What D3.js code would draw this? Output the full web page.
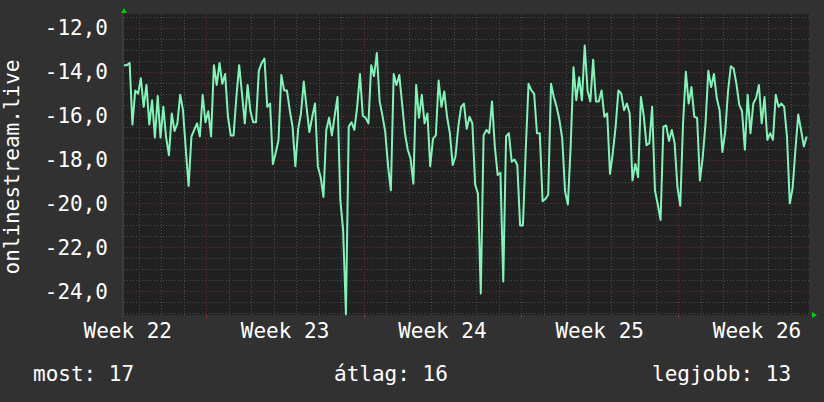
<!DOCTYPE html>
<html>
<head>
<meta charset="utf-8">
<script src="https://cdn.jsdelivr.net/npm/d3@7"></script>
<style>
    body { margin: 0; background: #313131; }
    svg { display: block; }
    text { font-family: "DejaVu Sans Mono", monospace; fill: #ffffff; }
</style>
</head>
<body>
<svg width="824" height="402"></svg>
<script>
// 3-hourly samples, starting Thursday 3 June 2021 08:00
const seriesStart = '2021-06-03T08:00:00Z';
const stepHours = 3;

const values = [
    -13.7, -13.7, -13.6, -16.4, -14.85, -15.0, -14.3, -15.6, -14.6, -16.4,
    -15.3, -17.0, -15.1, -17.0, -15.6, -17.0, -17.8, -15.9, -16.7, -16.35,
    -15.05, -15.75, -17.55, -19.2, -16.95, -16.65, -16.35, -16.95, -15.05, -16.3,
    -15.8, -16.95, -13.7, -14.6, -13.6, -14.55, -14.1, -16.05, -16.9, -16.9,
    -15.15, -13.7, -15.0, -16.35, -14.6, -15.8, -16.3, -16.3, -13.95, -13.6,
    -13.4, -15.6, -15.45, -18.2, -17.7, -17.1, -14.15, -14.85, -14.85, -15.75,
    -16.5, -18.3, -16.6, -15.9, -14.45, -15.65, -16.75, -16.05, -15.45, -18.3,
    -18.8, -19.7, -16.65, -16.1, -16.9, -16.0, -15.15, -19.85, -21.2, -25.05,
    -16.5, -16.3, -16.65, -15.6, -14.1, -16.0, -16.1, -16.35, -13.7, -14.2,
    -13.15, -15.35, -16.0, -16.75, -18.3, -19.4, -14.1, -14.6,
    -14.15, -15.45, -16.8, -17.55, -17.95, -19.1, -14.6, -16.1, -15.05, -16.35,
    -15.9, -18.3, -17.05, -16.9, -14.4, -15.6, -14.9, -16.05, -16.8, -18.25,
    -17.85, -16.5, -15.6, -15.45, -16.6, -16.05, -16.35, -19.15, -19.55, -24.1,
    -16.9, -16.65, -16.8, -15.35, -17.4, -18.7, -18.6, -23.55, -16.95, -16.8,
    -18.1, -18.0, -18.25, -21.0, -21.0, -17.55, -14.55, -14.85,
    -15.0, -16.8, -16.8, -19.9, -19.8, -19.6, -14.55, -15.15, -15.6, -16.2,
    -17.05, -19.45, -20.05, -17.4, -13.8, -15.3, -14.25, -15.3, -12.8, -14.85,
    -15.35, -13.45, -15.35, -15.35, -14.85, -16.05, -15.9, -18.65, -17.7, -16.5,
    -14.85, -15.0, -15.75, -15.45, -15.9, -18.95, -18.2, -18.8, -15.15, -16.0,
    -17.35, -17.25, -15.6, -19.4, -20.05, -20.75, -16.5, -16.45, -17.15,
    -16.65, -17.25, -19.25, -20.1, -16.35, -14.0, -15.45, -14.7, -16.05, -16.1,
    -18.95, -17.9, -16.35, -13.95, -14.7, -14.1, -15.2, -15.75, -17.65, -16.75,
    -14.9, -13.75, -13.85, -14.55, -15.5, -15.8, -17.55, -15.05, -16.8, -15.45,
    -15.2, -14.6, -16.35, -15.15, -17.1, -16.8, -17.1, -15.05, -15.6, -15.45,
    -15.6, -16.95, -20.0, -19.3, -17.55, -15.95, -16.65, -17.4, -16.95,
];

const timeDomain = ['2021-06-03T08:00:00Z', '2021-07-03T19:30:00Z'];
const valueDomain = [-25.08, -11.37];
const yTicks = [-24, -22, -20, -18, -16, -14, -12];
const weekLabels = ['2021-06-03T12:00:00Z', '2021-06-10T12:00:00Z', '2021-06-17T12:00:00Z',
    '2021-06-24T12:00:00Z', '2021-07-01T12:00:00Z'];
const yTitle = 'onlinestream.live';
const legendLabels = ['most', 'átlag', 'legjobb'];
const legendValues = [17, 16, 13];

const plotLeft = 124;
const plotRight = 809;
const plotTop = 14;
const plotBottom = 315;

const majorColor = '#6e2e2e';
const minorColor = '#4c4c4c';

const svg = d3.select('svg');

const parse = d3.isoParse;
const points = values.map((v, i) => ({
    t: d3.utcHour.offset(parse(seriesStart), i * stepHours),
    v: v,
}));

const xScale = d3.scaleUtc()
    .domain(timeDomain.map(parse))
    .range([plotLeft, plotRight]);

const yScale = d3.scaleLinear()
    .domain(valueDomain)
    .range([plotBottom, plotTop]);

const locale = d3.formatLocale({ decimal: ',', thousands: '.', grouping: [3], currency: ['', ''], minus: '-' });
const fmt = locale.format('.1f');

// plot background
svg.append('rect')
    .attr('x', plotLeft)
    .attr('y', plotTop)
    .attr('width', plotRight - plotLeft)
    .attr('height', plotBottom - plotTop)
    .attr('fill', '#212121');

svg.append('rect')
    .attr('x', plotLeft - 2)
    .attr('y', plotTop)
    .attr('width', 2)
    .attr('height', plotBottom - plotTop + 3)
    .attr('fill', '#3a3a3a');

// grid lines
const grid = svg.append('g')
    .attr('shape-rendering', 'crispEdges');

const minorY = d3.range(-25, -11.4, 0.5);
grid.selectAll('.hminor')
    .data(minorY)
    .enter()
    .append('line')
    .attr('x1', plotLeft)
    .attr('x2', plotRight)
    .attr('y1', (d) => Math.round(yScale(d)) + 0.5)
    .attr('y2', (d) => Math.round(yScale(d)) + 0.5)
    .attr('stroke', (d) => (d % 2 === 0 ? majorColor : minorColor))
    .attr('stroke-dasharray', '1,2');

const days = d3.utcDay.range(xScale.domain()[0], xScale.domain()[1]);
grid.selectAll('.vminor')
    .data(days)
    .enter()
    .append('line')
    .attr('x1', (d) => Math.round(xScale(d)) + 0.5)
    .attr('x2', (d) => Math.round(xScale(d)) + 0.5)
    .attr('y1', plotTop)
    .attr('y2', plotBottom)
    .attr('stroke', (d) => (d.getUTCDay() === 1 ? majorColor : minorColor))
    .attr('stroke-dasharray', '1,2');

// ticks below the x axis
grid.selectAll('.xtick')
    .data(d3.utcMonday.range(xScale.domain()[0], xScale.domain()[1]))
    .enter()
    .append('line')
    .attr('x1', (d) => Math.round(xScale(d)) + 0.5)
    .attr('x2', (d) => Math.round(xScale(d)) + 0.5)
    .attr('y1', plotBottom)
    .attr('y2', plotBottom + 3)
    .attr('stroke', '#8a3535');

// data line
const line = d3.line()
    .x((d) => xScale(d.t))
    .y((d) => yScale(d.v));

svg.append('path')
    .datum(points)
    .attr('fill', 'none')
    .attr('stroke', '#7ff5b8')
    .attr('stroke-width', 2)
    .attr('stroke-linejoin', 'round')
    .attr('d', line);

// axis arrows
svg.append('path')
    .attr('d', `M${plotLeft - 3},${plotTop - 1}L${plotLeft + 3},${plotTop - 1}L${plotLeft},${plotTop - 6}Z`)
    .attr('fill', '#00d000');

svg.append('path')
    .attr('d', `M${plotRight + 3},${plotBottom - 3}L${plotRight + 3},${plotBottom + 3}L${plotRight + 8},${plotBottom}Z`)
    .attr('fill', '#00d000');

// y tick labels
svg.selectAll('.ylabel')
    .data(yTicks)
    .enter()
    .append('text')
    .attr('x', 108)
    .attr('y', (d) => yScale(d))
    .attr('dy', '0.36em')
    .attr('text-anchor', 'end')
    .style('font-size', '21px')
    .text((d) => fmt(d));

// x week labels
const weekFmt = d3.utcFormat('Week %V');
svg.selectAll('.xlabel')
    .data(weekLabels.map(parse))
    .enter()
    .append('text')
    .attr('x', (d) => xScale(d))
    .attr('y', 338)
    .attr('text-anchor', 'middle')
    .style('font-size', '21px')
    .text((d) => weekFmt(d));

// y title
svg.append('text')
    .attr('transform', 'translate(18.5, 167) rotate(-90)')
    .attr('text-anchor', 'middle')
    .style('font-size', '21px')
    .text(yTitle);

// legend line at the bottom
const legendX = [33, 334, 652];
svg.selectAll('.legend')
    .data(legendLabels)
    .enter()
    .append('text')
    .attr('x', (d, i) => legendX[i])
    .attr('y', 381)
    .style('font-size', '21px')
    .text((d, i) => `${d}: ${legendValues[i]}`);
</script>
</body>
</html>
